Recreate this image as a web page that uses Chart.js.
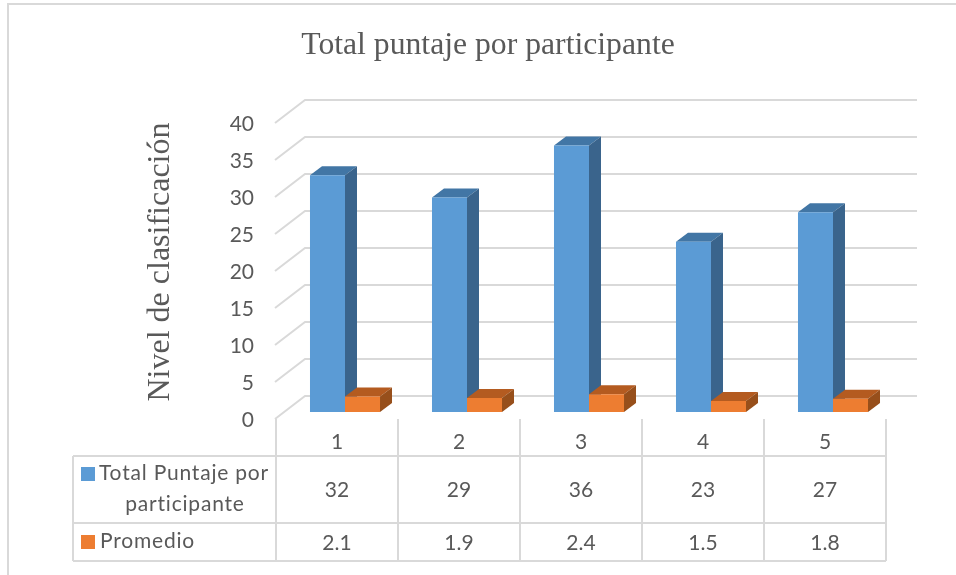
<!DOCTYPE html>
<html>
<head>
<meta charset="utf-8">
<script src="https://cdn.jsdelivr.net/npm/chart.js@4"></script>
<style>
html, body { margin: 0; padding: 0; background: #fff; }
#wrap { position: relative; width: 956px; height: 575px; overflow: hidden; }
</style>
</head>
<body>
<div id="wrap"><canvas id="puntajeChart" width="956" height="575"></canvas></div>
<script>
const participantes = ['1', '2', '3', '4', '5'];
const totalPuntaje = [32, 29, 36, 23, 27];
const promedio = [2.1, 1.9, 2.4, 1.5, 1.8];
const totalLabels = ['32', '29', '36', '23', '27'];
const promedioLabels = ['2.1', '1.9', '2.4', '1.5', '1.8'];
const serieTotal = ['Total Puntaje por', 'participante'];
const seriePromedio = 'Promedio';
const yTicks = [0, 5, 10, 15, 20, 25, 30, 35, 40];

const BLUE = '#5B9BD5', BLUE_TOP = '#4276A5', BLUE_SIDE = '#3A648C';
const ORANGE = '#ED7D31', ORANGE_TOP = '#B45B20', ORANGE_SIDE = '#974F1B';
const GRID = '#D9D9D9', TEXT = '#595959';
const SANS = 'Lato, "Open Sans", sans-serif';

// fake 3D look, everything hangs off the real scales
const threeD = {
    id: 'threeD',
    beforeDatasetsDraw(chart) {
        const { ctx } = chart;
        const y = chart.scales.y;
        const right = 917;
        ctx.save();
        ctx.strokeStyle = GRID;
        ctx.lineWidth = 2;
        yTicks.forEach(v => {
            const py = y.getPixelForValue(v);
            ctx.beginPath();
            ctx.moveTo(275, py + 7);
            ctx.lineTo(305, py - 16);
            ctx.lineTo(right, py - 16);
            ctx.stroke();
        });
        // bar sides and tops
        const colors = [[BLUE_TOP, BLUE_SIDE], [ORANGE_TOP, ORANGE_SIDE]];
        chart.data.datasets.forEach((ds, i) => {
            chart.getDatasetMeta(i).data.forEach(bar => {
                const l = bar.x - bar.width / 2, r = bar.x + bar.width / 2;
                const t = bar.y, b = bar.base;
                ctx.fillStyle = colors[i][0];
                ctx.beginPath();
                ctx.moveTo(l, t); ctx.lineTo(l + 12, t - 9);
                ctx.lineTo(r + 12, t - 9); ctx.lineTo(r, t);
                ctx.closePath(); ctx.fill();
                ctx.fillStyle = colors[i][1];
                ctx.beginPath();
                ctx.moveTo(r, t); ctx.lineTo(r + 12, t - 9);
                ctx.lineTo(r + 12, b - 9); ctx.lineTo(r, b);
                ctx.closePath(); ctx.fill();
            });
        });
        ctx.restore();
    },
    afterDraw(chart) {
        const { ctx } = chart;
        const y = chart.scales.y;
        const cols = [276, 398, 520, 642, 764, 886];
        ctx.save();
        // border of the chart object, no right or bottom edge in the picture
        ctx.strokeStyle = GRID;
        ctx.lineWidth = 2;
        ctx.beginPath();
        ctx.moveTo(8, 575); ctx.lineTo(8, 4); ctx.lineTo(956, 4);
        ctx.stroke();
        // data table
        ctx.beginPath();
        cols.forEach(x => { ctx.moveTo(x, 419); ctx.lineTo(x, 561); });
        ctx.moveTo(73, 456); ctx.lineTo(73, 561);
        [456, 523, 561].forEach(py => { ctx.moveTo(73, py); ctx.lineTo(886, py); });
        ctx.stroke();

        ctx.fillStyle = TEXT;
        ctx.font = '21px ' + SANS;
        ctx.textBaseline = 'middle';
        ctx.textAlign = 'right';
        yTicks.forEach(v => ctx.fillText(String(v), 254, y.getPixelForValue(v) + 8));
        ctx.textAlign = 'center';
        participantes.forEach((p, i) => {
            const cx = (cols[i] + cols[i + 1]) / 2;
            ctx.fillText(p, cx, 442);
            ctx.fillText(totalLabels[i], cx, 490);
            ctx.fillText(promedioLabels[i], cx, 543);
        });
        ctx.letterSpacing = '0.8px';
        ctx.fillText(serieTotal[0], 184, 473);
        ctx.fillText(serieTotal[1], 185, 504);
        ctx.textAlign = 'left';
        ctx.fillText(seriePromedio, 100, 541);
        ctx.letterSpacing = '0px';
        ctx.fillStyle = BLUE;
        ctx.fillRect(81, 467, 14, 14);
        ctx.fillStyle = ORANGE;
        ctx.fillRect(81, 535, 14, 14);
        ctx.restore();
    }
};

new Chart(document.getElementById('puntajeChart').getContext('2d'), {
    type: 'bar',
    data: {
        labels: participantes,
        datasets: [
            { label: serieTotal.join(' '), data: totalPuntaje, backgroundColor: BLUE },
            { label: seriePromedio, data: promedio, backgroundColor: ORANGE }
        ]
    },
    options: {
        responsive: false,
        animation: false,
        devicePixelRatio: 1,
        layout: { padding: { left: 284, right: 62, top: 116, bottom: 163 } },
        datasets: { bar: { categoryPercentage: 0.574, barPercentage: 1 } },
        plugins: {
            legend: { display: false },
            tooltip: { enabled: false },
            title: { display: false }
        },
        scales: {
            x: { display: false, grid: { display: false } },
            y: { display: false, min: 0, max: 40, grid: { display: false }, ticks: { stepSize: 5 } }
        }
    },
    plugins: [threeD, {
        id: 'titles',
        afterDraw(chart) {
            const { ctx } = chart;
            ctx.save();
            ctx.fillStyle = TEXT;
            ctx.textAlign = 'center';
            ctx.textBaseline = 'middle';
            ctx.font = '31.7px "Liberation Serif", serif';
            ctx.fillText('Total puntaje por participante', 488, 46);
            ctx.translate(161, 262);
            ctx.rotate(-Math.PI / 2);
            ctx.font = '32px "Liberation Serif", serif';
            ctx.fillText('Nivel de clasificación', 0, 0);
            ctx.restore();
        }
    }]
});
</script>
</body>
</html>
